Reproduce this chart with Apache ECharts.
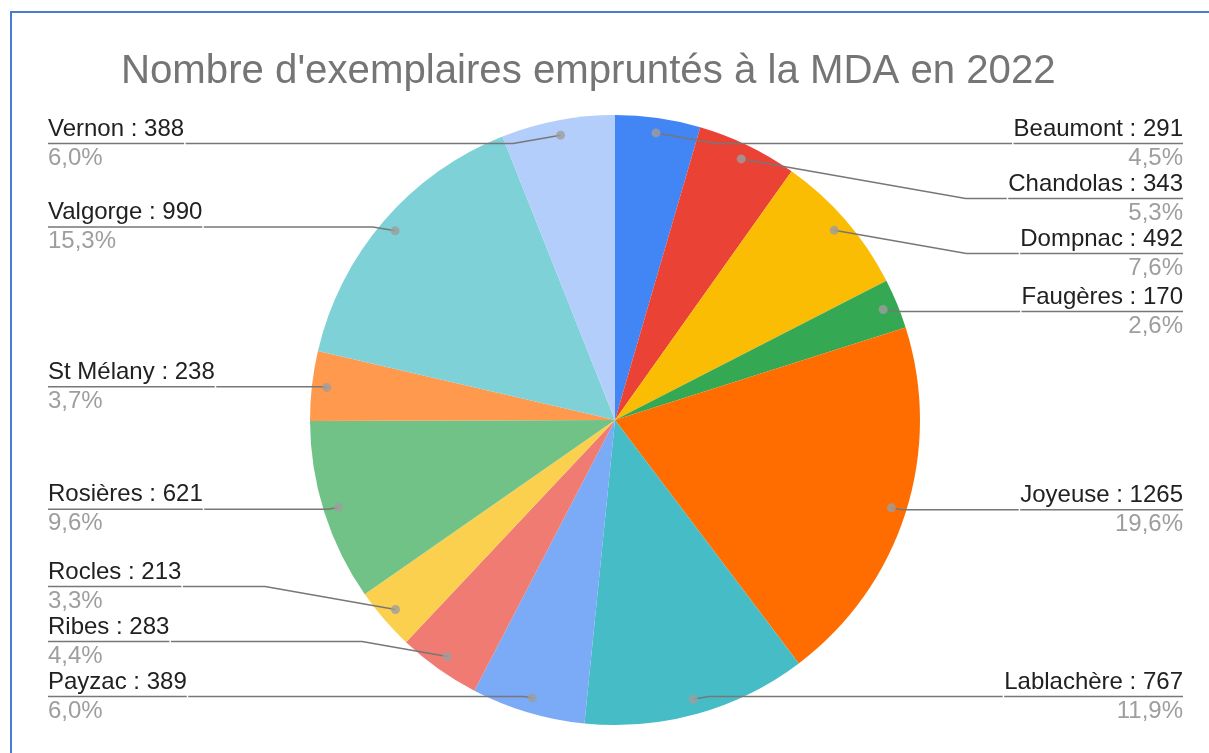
<!DOCTYPE html>
<html>
<head>
<meta charset="utf-8">
<script src="https://cdn.jsdelivr.net/npm/echarts@6/dist/echarts.min.js"></script>
<style>
  html, body { margin: 0; padding: 0; background: #fff; }
  #frame {
    position: absolute; left: 10px; top: 11px; right: 0; bottom: 0;
    border-top: 2px solid #4a7bd3; border-left: 2px solid #4a7bd3;
  }
  #chart { position: absolute; left: 0; top: 0; width: 1209px; height: 753px; }
</style>
</head>
<body>
<div id="frame"></div>
<div id="chart"></div>
<script>
/* ===== MDA 2022 pie ===== */

const titleText = "Nombre d'exemplaires empruntés à la MDA en 2022";
const libraries = ['Beaumont', 'Chandolas', 'Dompnac', 'Faugères', 'Joyeuse', 'Lablachère',
  'Payzac', 'Ribes', 'Rocles', 'Rosières', 'St Mélany', 'Valgorge', 'Vernon'];
const loans = [291, 343, 492, 170, 1265, 767, 389, 283, 213, 621, 238, 990, 388];
const sliceColors = ['#4285f4', '#ea4335', '#fbbc04', '#34a853', '#ff6d01', '#46bdc6',
  '#7baaf7', '#f07b72', '#fcd04f', '#71c287', '#ff994d', '#7ed1d7', '#b3cefb'];

// labels are laid out (overlap avoidance) in these independent stacks
const labelGroups = [[0, 1, 2, 3], [4, 5], [6, 7, 8], [9, 10], [11, 12]];

const total = loans.reduce((a, b) => a + b, 0);

const FONT = 'Liberation Sans, Arial, sans-serif';
const CX = 615, CY = 420, R = 305, R_DOT = 290;
// box used by ECharts to keep labels between these y limits
const BOX = { left: 22, top: 116, right: 0, bottom: 753 - 724 };

function pct(v) {
  return (v / total * 100).toFixed(1).replace('.', ',') + '%';
}

const pieData = libraries.map((name, i) => ({
  name, value: loans[i], itemStyle: { color: sliceColors[i] }
}));

// middle of each slice, in value units along the angle axis
let acc = 0;
const dotData = loans.map(v => {
  const mid = acc + v / 2;
  acc += v;
  return [R_DOT, mid];
});

function labelSeries(group) {
  return {
    type: 'pie',
    ...BOX,
    center: [CX - BOX.left, CY - BOX.top],
    radius: R_DOT,
    startAngle: 90,
    clockwise: true,
    z: 3,
    silent: true,
    itemStyle: { color: 'rgba(0,0,0,0)', borderWidth: 0 },
    label: {
      position: 'outside',
      alignTo: 'edge',
      edgeDistance: 26,
      distanceToLabelLine: 0,
      fontFamily: FONT,
      formatter: p => `{name|${p.name} : ${p.value}}\n{hr|}\n{pct|${pct(p.value)}}`,
      rich: {
        name: { color: '#212121', fontSize: 24, lineHeight: 20, padding: [0, 0, 9, 0], fontFamily: FONT },
        hr: { borderColor: '#777777', borderWidth: 1.5, width: '100%', height: 0 },
        pct: { color: '#9e9e9e', fontSize: 24, lineHeight: 20, padding: [9, 0, 0, 0], fontFamily: FONT },
      },
    },
    labelLine: {
      length: 6,
      length2: 10,
      minTurnAngle: 170,
      maxSurfaceAngle: 180,
      lineStyle: { color: '#777777', width: 1.5 },
    },
    data: libraries.map((name, i) => {
      const on = group.includes(i);
      return { name, value: loans[i], label: { show: on }, labelLine: { show: on } };
    }),
  };
}

const chart = echarts.init(document.getElementById('chart'));
chart.setOption({
  backgroundColor: 'transparent',
  animation: false,
  title: {
    text: titleText,
    left: 116,
    top: 47,
    textStyle: { color: '#757575', fontSize: 40.2, fontWeight: 'normal', fontFamily: FONT },
  },
  polar: { center: [CX, CY], radius: R },
  angleAxis: { type: 'value', min: 0, max: total, startAngle: 90, clockwise: true, show: false },
  radiusAxis: { type: 'value', min: 0, max: R, show: false },
  series: [
    {
      type: 'pie',
      ...BOX,
      center: [CX - BOX.left, CY - BOX.top],
      radius: R,
      startAngle: 90,
      clockwise: true,
      z: 1,
      silent: true,
      label: { show: false },
      labelLine: { show: false },
      itemStyle: { borderWidth: 0 },
      data: pieData,
    },
    ...labelGroups.map(labelSeries),
    {
      type: 'scatter',
      coordinateSystem: 'polar',
      z: 4,
      silent: true,
      symbol: 'circle',
      symbolSize: 9,
      itemStyle: { color: '#9e9e9e' },
      data: dotData,
    },
  ],
});

window.addEventListener('resize', () => chart.resize());
</script>
</body>
</html>
